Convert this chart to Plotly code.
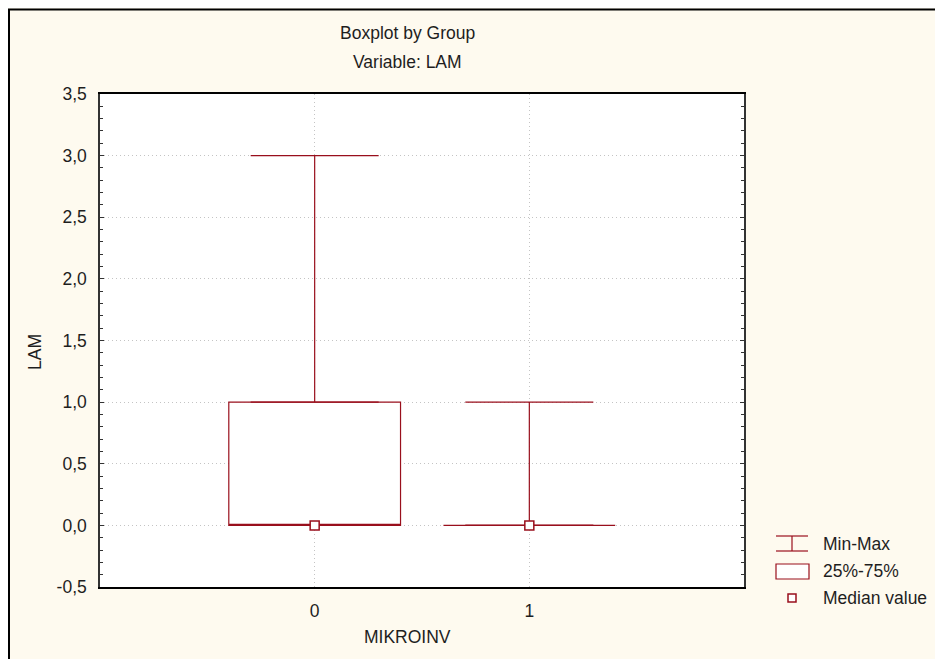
import plotly.graph_objects as go

# ---- data ----
categories = ["0", "1"]
mins = [0.0, 0.0]
q1s = [0.0, 0.0]
medians = [0.0, 0.0]
q3s = [1.0, 0.0]
maxs = [3.0, 1.0]

y_tick_vals = [-0.5, 0.0, 0.5, 1.0, 1.5, 2.0, 2.5, 3.0, 3.5]
y_tick_text = ["-0,5", "0,0", "0,5", "1,0", "1,5", "2,0", "2,5", "3,0", "3,5"]
x_tick_text = ["0", "1"]

title_line1 = "Boxplot by Group"
title_line2 = "Variable: LAM"
x_title = "MIKROINV"
y_title = "LAM"
legend_labels = ["Min-Max", "25%-75%", "Median value"]

# ---- style ----
OFF = 8  # page body margin (left/top): reference pixel = figure pixel + OFF
W, H = 935 - OFF, 659 - OFF
L, R, T, B = 100 - OFF, 744 - OFF, 94 - OFF, 587 - OFF
RED = "#990F1C"
TXT = "#1e1e1e"
CREAM = "#FEFAEF"
FONT = "Liberation Sans, Arial, sans-serif"
FS = 17.5
GRID = "#c4c4c4"


def px_x(px):
    """reference pixel x -> paper coordinate"""
    return (px - OFF - L) / (R - L)


def px_y(py):
    """reference pixel y -> paper coordinate"""
    return (B - (py - OFF)) / (B - T)


fig = go.Figure()

# upper whiskers (q3 -> max) with caps
fig.add_trace(go.Scatter(
    x=categories, y=q3s, mode="markers",
    marker=dict(size=1, color="rgba(0,0,0,0)"),
    error_y=dict(type="data", symmetric=False,
                 array=[mx - q for mx, q in zip(maxs, q3s)],
                 arrayminus=[0.0 for _ in q3s],
                 width=64, thickness=1.2, color=RED),
    showlegend=False, hoverinfo="skip",
))
# lower whiskers (min -> q1) with caps
fig.add_trace(go.Scatter(
    x=categories, y=q1s, mode="markers",
    marker=dict(size=1, color="rgba(0,0,0,0)"),
    error_y=dict(type="data", symmetric=False,
                 array=[0.0 for _ in q1s],
                 arrayminus=[q - mn for q, mn in zip(q1s, mins)],
                 width=64, thickness=1.2, color=RED),
    showlegend=False, hoverinfo="skip",
))

# 25%-75% boxes
fig.add_trace(go.Box(
    x=categories, q1=q1s, median=medians, q3=q3s,
    lowerfence=q1s, upperfence=q3s,
    width=0.8, fillcolor="white", line=dict(color=RED, width=1.2),
    whiskerwidth=0, boxpoints=False, showlegend=False, hoverinfo="skip",
))

# medians
fig.add_trace(go.Scatter(
    x=categories, y=medians, mode="markers",
    marker=dict(symbol="square", size=9, color="white",
                line=dict(color=RED, width=1.5)),
    showlegend=False,
))

shapes = []
# outer frame (left & top edges)
shapes.append(dict(type="line", xref="paper", yref="paper",
                   x0=px_x(9), x1=px_x(9), y0=px_y(9), y1=px_y(700),
                   line=dict(color="black", width=2)))
shapes.append(dict(type="line", xref="paper", yref="paper",
                   x0=px_x(8), x1=px_x(960), y0=px_y(9.5), y1=px_y(9.5),
                   line=dict(color="black", width=2)))

# legend icons (manual legend)
lx0, lx1 = 776, 808
yy = [544, 571, 598]
cx = (lx0 + lx1) / 2
shapes += [
    dict(type="line", xref="paper", yref="paper", x0=px_x(lx0), x1=px_x(lx1),
         y0=px_y(yy[0] - 8), y1=px_y(yy[0] - 8), line=dict(color=RED, width=1.2)),
    dict(type="line", xref="paper", yref="paper", x0=px_x(lx0), x1=px_x(lx1),
         y0=px_y(yy[0] + 7), y1=px_y(yy[0] + 7), line=dict(color=RED, width=1.2)),
    dict(type="line", xref="paper", yref="paper", x0=px_x(cx), x1=px_x(cx),
         y0=px_y(yy[0] - 8), y1=px_y(yy[0] + 7), line=dict(color=RED, width=1.2)),
]
shapes.append(dict(type="rect", xref="paper", yref="paper",
                   x0=px_x(lx0), x1=px_x(lx1 + 1), y0=px_y(yy[1] + 8), y1=px_y(yy[1] - 7),
                   fillcolor="white", line=dict(color=RED, width=1.2)))
shapes.append(dict(type="rect", xref="paper", yref="paper",
                   x0=px_x(788), x1=px_x(796), y0=px_y(yy[2] + 4), y1=px_y(yy[2] - 4),
                   fillcolor="white", line=dict(color=RED, width=1.5)))

annotations = [
    dict(text=title_line1, x=px_x(407), y=px_y(33), xref="paper", yref="paper",
         showarrow=False, xanchor="center", yanchor="middle",
         font=dict(size=FS, color=TXT, family=FONT)),
    dict(text=title_line2, x=px_x(407), y=px_y(62), xref="paper", yref="paper",
         showarrow=False, xanchor="center", yanchor="middle",
         font=dict(size=FS, color=TXT, family=FONT)),
    dict(text=x_title, x=px_x(407), y=px_y(637), xref="paper", yref="paper",
         showarrow=False, xanchor="center", yanchor="middle",
         font=dict(size=FS, color=TXT, family=FONT)),
    dict(text=y_title, x=px_x(35), y=px_y(352), xref="paper", yref="paper",
         showarrow=False, xanchor="center", yanchor="middle", textangle=-90,
         font=dict(size=FS, color=TXT, family=FONT)),
]
for lab, y in zip(legend_labels, yy):
    annotations.append(dict(text=lab, x=px_x(821), y=px_y(y), xref="paper", yref="paper",
                            showarrow=False, xanchor="left", yanchor="middle",
                            font=dict(size=FS, color=TXT, family=FONT)))

fig.update_layout(
    width=W, height=H,
    margin=dict(l=L, r=W - R, t=T, b=H - B, pad=0),
    paper_bgcolor=CREAM, plot_bgcolor="white",
    font=dict(family=FONT, size=FS, color=TXT),
    showlegend=False,
    shapes=shapes, annotations=annotations,
)
fig.update_xaxes(
    type="category", range=[-1, 2],
    tickvals=categories, ticktext=x_tick_text,
    showline=True, linecolor="black", linewidth=1.5, mirror=True,
    showgrid=True, gridcolor=GRID, griddash="1px,3px", gridwidth=1,
    ticks="", ticklabelstandoff=7,
    tickfont=dict(size=FS, color=TXT, family=FONT),
)
fig.update_yaxes(
    range=[-0.5, 3.5],
    tickvals=y_tick_vals, ticktext=y_tick_text,
    showline=True, linecolor="#333333", linewidth=1.5, mirror="allticks",
    ticks="inside", ticklen=4, tickwidth=1, tickcolor="#333333",
    minor=dict(ticks="inside", ticklen=3, tickwidth=1, tickcolor="#333333", dtick=0.1,
               showgrid=False),
    showgrid=True, gridcolor=GRID, griddash="1px,3px", gridwidth=1,
    zeroline=False, ticklabelstandoff=8,
    tickfont=dict(size=FS, color=TXT, family=FONT),
)

fig.write_html(
    "out.html",
    post_script="document.body.style.margin='8px 0 0 8px';"
                "document.documentElement.style.overflow='hidden';"
                "document.body.style.overflow='hidden';",
)
